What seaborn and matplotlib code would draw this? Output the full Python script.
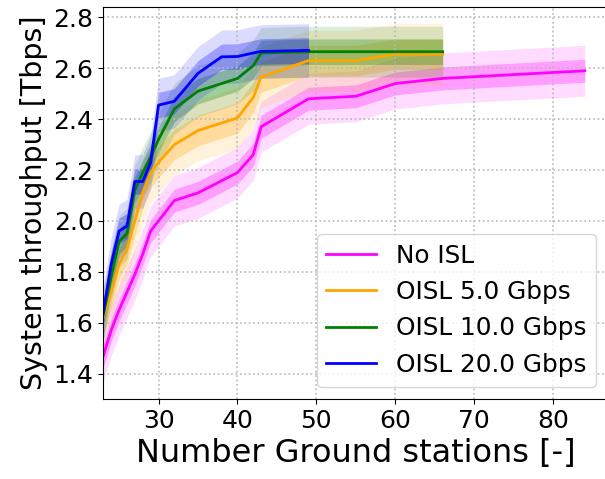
import numpy as np
import pandas as pd
import matplotlib
matplotlib.use("Agg")
import matplotlib.pyplot as plt
import seaborn as sns

# значения
x_no_isl = [23, 24, 25, 26, 27, 28, 29, 30, 32, 35, 40, 42, 43, 49, 55, 60, 66, 84]
y_no_isl = [1.47, 1.57, 1.65, 1.72, 1.79, 1.87, 1.96, 2.00, 2.08, 2.11, 2.19, 2.26, 2.37,
            2.48, 2.49, 2.54, 2.56, 2.59]

x_oisl5 = [23, 24, 25, 26, 27, 28, 29, 30, 32, 35, 40, 42, 43, 49, 55, 60, 66]
y_oisl5 = [1.62, 1.72, 1.83, 1.89, 2.00, 2.11, 2.19, 2.23, 2.30, 2.355, 2.405, 2.485, 2.565,
           2.63, 2.63, 2.655, 2.655]

x_oisl10 = [23, 24, 25, 26, 27, 28, 29, 30, 32, 35, 38, 40, 42, 43, 49, 55, 60, 66]
y_oisl10 = [1.63, 1.78, 1.92, 1.95, 2.12, 2.19, 2.25, 2.32, 2.44, 2.51, 2.54, 2.56, 2.61, 2.66,
            2.665, 2.665, 2.665, 2.665]

x_oisl20 = [23, 24, 25, 26, 27, 28, 29, 30, 32, 35, 38, 40, 42, 43, 49]
y_oisl20 = [1.64, 1.83, 1.96, 1.98, 2.155, 2.155, 2.23, 2.455, 2.47, 2.58, 2.645, 2.646, 2.66,
            2.666, 2.67]

labels = ["No ISL", "OISL 5.0 Gbps", "OISL 10.0 Gbps", "OISL 20.0 Gbps"]
colors = ["magenta", "orange", "green", "blue"]
# полуширина внутренней и внешней полосы разброса
spread_inner = [0.045, 0.06, 0.05, 0.05]
spread_outer = [0.10, 0.12, 0.10, 0.105]

series = [(x_no_isl, y_no_isl), (x_oisl5, y_oisl5), (x_oisl10, y_oisl10), (x_oisl20, y_oisl20)]

fig = plt.figure(figsize=(6.05, 4.79), dpi=100)
ax = fig.add_axes([0.1707, 0.167, 0.835, 0.818])

for (xs, ys), name, color, s1, s2 in zip(series, labels, colors, spread_inner, spread_outer):
    df = pd.DataFrame({"gs": xs, "thr": ys})
    ys = np.array(ys)
    ax.fill_between(xs, ys - s2, ys + s2, color=color, alpha=0.14, linewidth=0)
    ax.fill_between(xs, ys - s1, ys + s1, color=color, alpha=0.28, linewidth=0)
    sns.lineplot(data=df, x="gs", y="thr", color=color, label=name, linewidth=2,
                 estimator=None, ax=ax)

ax.set_xlim(23, 87)
ax.set_ylim(1.3, 2.84)
ax.set_xticks([30, 40, 50, 60, 70, 80])
ax.set_yticks([1.4, 1.6, 1.8, 2.0, 2.2, 2.4, 2.6, 2.8])
ax.tick_params(labelsize=18)
ax.grid(True, linestyle=":", color="#b8b8b8", linewidth=1.2)
ax.set_xlabel("Number Ground stations [-]", fontsize=23)
ax.set_ylabel("System throughput [Tbps]", fontsize=20.5)
ax.legend(loc="lower right", fontsize=17.8)

fig.savefig("out.png", dpi=100)
